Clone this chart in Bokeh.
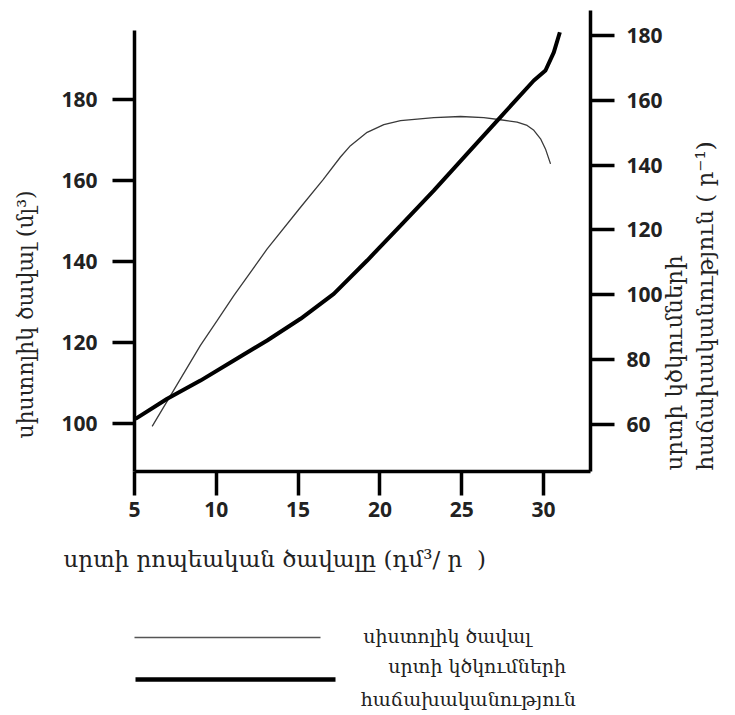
import numpy as np
from bokeh.plotting import figure
from bokeh.models import Range1d, LinearAxis, FixedTicker
from bokeh.embed import file_html
from bokeh.resources import INLINE

# ---------------- data ----------------
# systolic volume (left axis, ml) vs minute volume (dm3/min)
sv_x = [6.08, 7.51, 9.03, 10.05, 11.07, 13.11, 15.15, 16.53, 17.59, 18.20, 19.22,
        20.24, 21.26, 23.30, 24.93, 26.35, 27.37, 28.39, 29.0, 29.41, 29.82, 30.12, 30.43]
sv_y = [99.3, 109.0, 119.3, 125.4, 131.6, 143.1, 153.4, 160.2, 165.8, 168.6, 171.9,
        173.8, 174.8, 175.5, 175.8, 175.5, 175.0, 174.4, 173.6, 172.4, 170.3, 167.8, 164.1]
# heart rate (right axis, 1/min) vs minute volume
hr_x = [5.06, 7.0, 9.03, 11.07, 13.11, 15.15, 17.18, 19.22, 21.26, 23.29, 25.34,
        27.37, 29.41, 30.12, 30.63, 31.0]
hr_y = [61.6, 67.8, 73.4, 79.6, 85.8, 92.5, 100.2, 110.5, 121.3, 132.1, 143.5,
        154.8, 166.1, 169.2, 174.8, 181.0]

x_ticks = [5, 10, 15, 20, 25, 30]
left_ticks = [100, 120, 140, 160, 180]
right_ticks = [60, 80, 100, 120, 140, 160, 180]

x_label = "սրտի րոպեական ծավալը (դմ³/ ր\u00a0\u00a0)"
left_label = "սիստոլիկ ծավալ (մլ³)"
right_label_lines = ["սրտի կծկումների", "հաճախականություն ( ր⁻¹)"]
legend_labels = ["սիստոլիկ ծավալ", "սրտի կծկումների", "հաճախականություն"]

ARM_FONT = "DejaVu Serif"
NUM_FONT = "Open Sans"
TXT = "#222222"
NB = "\u00a0"

# ---------------- layout constants (page pixels; Bokeh page has no margin) ----------------
W, H = 735, 713
X0_PX, X_PER = 134.0, 16.36     # x=5 at page x 134
YL_PX, YL_PER = 423.0, 4.05     # left y=100 at page y 423
YR_PX, YR_PER = 423.5, 3.2375   # right y=60 at page y 423.5
FR_LEFT, FR_RIGHT, FR_TOP, FR_BOT = 134, 590, 10, 471

def xd(px):
    return 5 + (px - X0_PX) / X_PER

def yl(py):
    return 100 + (YL_PX - py) / YL_PER

def yr(py):
    return 60 + (YR_PX - py) / YR_PER

p = figure(width=W, height=H,
           x_range=Range1d(xd(FR_LEFT), xd(FR_RIGHT)),
           y_range=Range1d(yl(FR_BOT), yl(FR_TOP)),
           output_backend="svg", toolbar_location=None,
           min_border_left=FR_LEFT, min_border_right=W - FR_RIGHT,
           min_border_top=FR_TOP, min_border_bottom=H - FR_BOT)
# "hr": heart-rate scale; "pix": pixels above the frame bottom (used to place the right title)
p.extra_y_ranges = {"hr": Range1d(yr(FR_BOT), yr(FR_TOP)),
                    "pix": Range1d(0, FR_BOT - FR_TOP)}
p.outline_line_color = None
p.grid.visible = False

raxis = LinearAxis(y_range_name="hr")
p.add_layout(raxis, "right")

def style_axis(ax, ticks, tick_out, standoff):
    ax.ticker = FixedTicker(ticks=ticks)
    ax.axis_line_width = 3.5
    ax.axis_line_color = "black"
    ax.major_tick_line_width = 3.5
    ax.major_tick_line_color = "black"
    ax.major_tick_out = tick_out
    ax.major_tick_in = 0
    ax.minor_tick_line_color = None
    ax.major_label_text_font = NUM_FONT
    ax.major_label_text_font_style = "bold"
    ax.major_label_text_font_size = "21px"
    ax.major_label_text_color = TXT
    ax.major_label_standoff = standoff
    ax.axis_label = None

style_axis(p.xaxis[0], x_ticks, 24, 6)
style_axis(p.yaxis[0], left_ticks, 22, 15)
style_axis(raxis, right_ticks, 24, 12)
p.yaxis[0].bounds = (yl(FR_BOT), yl(30))

p.line(sv_x, sv_y, line_color="#3a3a3a", line_width=1.3)
p.line(hr_x, hr_y, line_color="black", line_width=4, y_range_name="hr")

# title-only axes stacked around the frame (no ticks); labels are centred on
# the frame, so no-break-space padding moves them to the reference positions
def label_axis(text, side, standoff, size, y_range_name="default", orient="parallel",
               line=None, bounds=None, line_height=None):
    ax = LinearAxis(y_range_name=y_range_name) if side in ("left", "right") else LinearAxis()
    ax.ticker = FixedTicker(ticks=[])
    if line is None:
        ax.axis_line_color = None
    else:
        ax.axis_line_color = line[0]
        ax.axis_line_width = line[1]
    if bounds is not None:
        ax.bounds = bounds
    ax.major_tick_line_color = None
    ax.minor_tick_line_color = None
    ax.major_tick_out = 0
    ax.major_tick_in = 0
    ax.minor_tick_out = 0
    ax.minor_tick_in = 0
    ax.major_label_standoff = 0
    ax.axis_label = text
    ax.axis_label_standoff = standoff
    ax.axis_label_text_font = ARM_FONT
    ax.axis_label_text_font_style = "normal"
    ax.axis_label_text_font_size = size
    ax.axis_label_text_color = TXT
    if line_height is not None:
        ax.axis_label_text_line_height = line_height
    ax.axis_label_orientation = orient
    p.add_layout(ax, side)
    return ax

label_axis(left_label + NB * 21, "left", 21, "22px")

# right title: each line is a single vertical tick label whose text starts at
# its tick, at the bottom of the frame, and reads upwards
def right_title_line(text, tick, standoff, size):
    ax = LinearAxis(y_range_name="pix", ticker=FixedTicker(ticks=[tick]))
    ax.axis_line_color = None
    ax.major_tick_line_color = None
    ax.minor_tick_line_color = None
    ax.major_tick_out = 0
    ax.major_tick_in = 0
    ax.minor_tick_out = 0
    ax.minor_tick_in = 0
    ax.major_label_overrides = {tick: text}
    ax.major_label_orientation = np.pi / 2
    ax.major_label_standoff = standoff
    ax.major_label_text_font = ARM_FONT
    ax.major_label_text_font_style = "normal"
    ax.major_label_text_font_size = size
    ax.major_label_text_color = TXT
    ax.axis_label = None
    p.add_layout(ax, "right")
    return ax

right_title_line(right_label_lines[0], 1, 8, "23px")
right_title_line(right_label_lines[1], 1, 2, "23px")

label_axis(x_label + NB * 24, "below", 26, "23px")

# legend key, drawn as bounded axis rules with their texts
label_axis(NB, "below", 38, "19px")  # spacer
label_axis(NB * 28 + legend_labels[0], "below", -13, "19px",
           line=("#555555", 1.5), bounds=(xd(133), xd(320)))
label_axis(NB * 38 + legend_labels[1], "below", 5, "19px", line_height=1.75)
label_axis(NB * 35 + legend_labels[2], "below", 8, "19px",
           line=("black", 4.5), bounds=(xd(135), xd(335)))

open("out.html", "w").write(file_html(p, INLINE))
